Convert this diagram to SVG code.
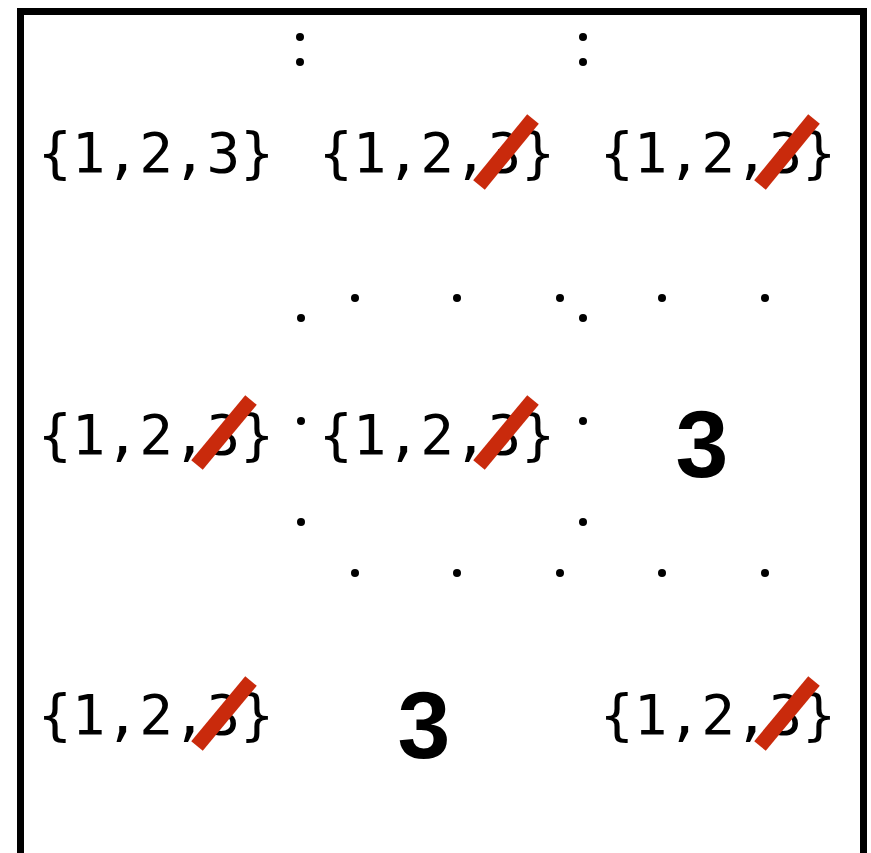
<svg xmlns="http://www.w3.org/2000/svg" width="871" height="853" viewBox="0 0 871 853">
<style>
.set{font-family:"DejaVu Sans Mono","Liberation Mono",monospace;font-size:56px;fill:#000;text-anchor:middle}
.big{font-family:"Liberation Sans",Arial,sans-serif;font-weight:bold;font-size:95px;fill:#000;text-anchor:middle}
.strike{stroke:#c92a0c;stroke-width:15;stroke-linecap:butt;fill:none}
.dot{fill:#000}
</style>
<rect x="0" y="0" width="871" height="853" fill="#fff"/>
<rect id="frame" x="20.5" y="11.5" width="843" height="850" fill="none" stroke="#000" stroke-width="7"/>
<g id="dots">
<circle class="dot" cx="300" cy="37" r="4"/>
<circle class="dot" cx="300" cy="62" r="4"/>
<circle class="dot" cx="583" cy="37" r="4"/>
<circle class="dot" cx="583" cy="62" r="4"/>
<circle class="dot" cx="301" cy="318" r="4"/>
<circle class="dot" cx="355" cy="298" r="4"/>
<circle class="dot" cx="457" cy="298" r="4"/>
<circle class="dot" cx="560" cy="298" r="4"/>
<circle class="dot" cx="583" cy="318" r="4"/>
<circle class="dot" cx="662" cy="298" r="4"/>
<circle class="dot" cx="765" cy="298" r="4"/>
<circle class="dot" cx="301" cy="421" r="4"/>
<circle class="dot" cx="583" cy="421" r="4"/>
<circle class="dot" cx="301" cy="522" r="4"/>
<circle class="dot" cx="583" cy="522" r="4"/>
<circle class="dot" cx="355" cy="573" r="4"/>
<circle class="dot" cx="457" cy="573" r="4"/>
<circle class="dot" cx="560" cy="573" r="4"/>
<circle class="dot" cx="662" cy="573" r="4"/>
<circle class="dot" cx="765" cy="573" r="4"/>
</g>
<g id="r1c1"><text class="set" x="156" y="172">{1,2,3}</text></g>
<g id="r1c2"><text class="set" x="437" y="172">{1,2,3}</text><line class="strike" x1="479" y1="185" x2="533" y2="119"/></g>
<g id="r1c3"><text class="set" x="718" y="172">{1,2,3}</text><line class="strike" x1="760" y1="185" x2="814" y2="119"/></g>
<g id="r2c1"><text class="set" x="156" y="454">{1,2,3}</text><line class="strike" x1="197" y1="465" x2="251" y2="400"/></g>
<g id="r2c2"><text class="set" x="437" y="454">{1,2,3}</text><line class="strike" x1="479" y1="465" x2="533" y2="400"/></g>
<g id="r2c3"><text class="big" x="702" y="477">3</text></g>
<g id="r3c1"><text class="set" x="156" y="734">{1,2,3}</text><line class="strike" x1="197" y1="746" x2="251" y2="681"/></g>
<g id="r3c2"><text class="big" x="424" y="758">3</text></g>
<g id="r3c3"><text class="set" x="718" y="734">{1,2,3}</text><line class="strike" x1="760" y1="746" x2="814" y2="681"/></g>
<g id="connectors"></g>
</svg>
